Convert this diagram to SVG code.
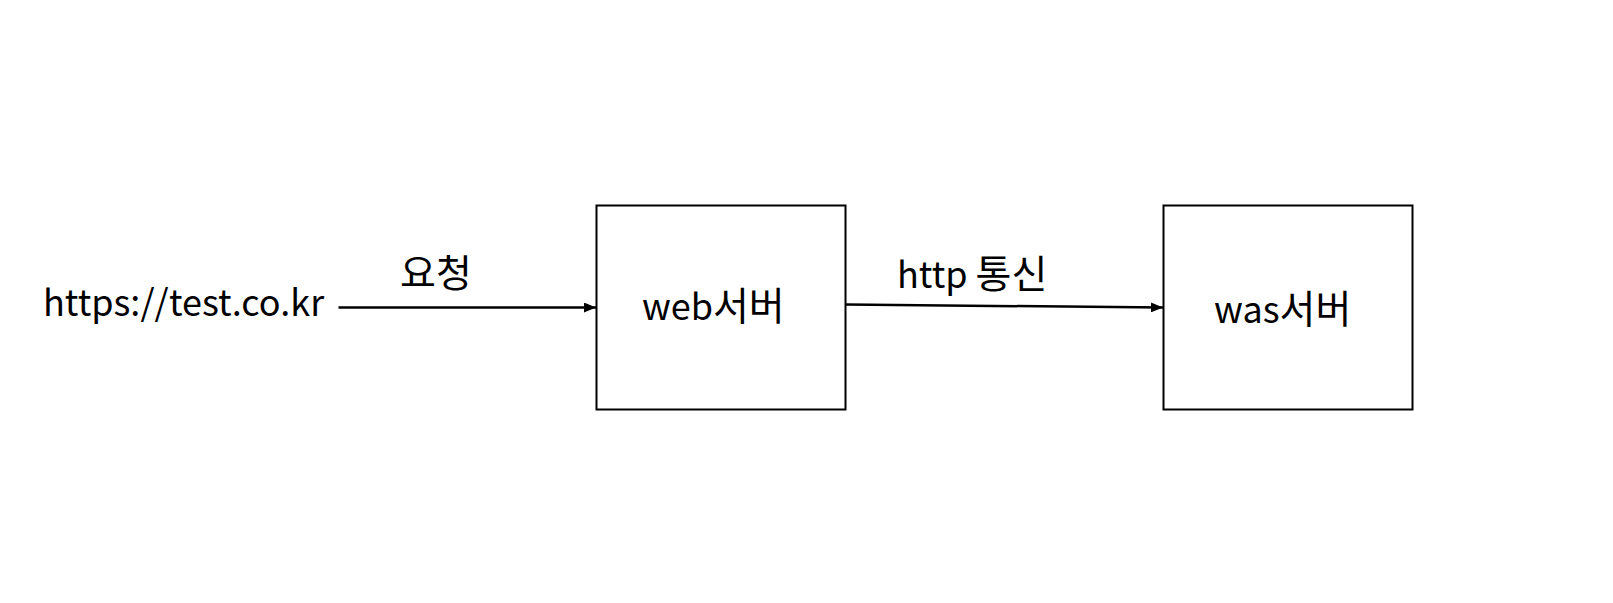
<svg xmlns="http://www.w3.org/2000/svg" width="1613" height="603" viewBox="0 0 1613 603">
<defs>
<style>
.t{font-family:"Noto Sans CJK KR","Noto Sans",sans-serif;font-size:36px;fill:#000}
.k{font-size:39px}
.box{fill:#fff;stroke:#000;stroke-width:2}
.ln{stroke:#000;stroke-width:2.5;fill:none}
</style>
<marker id="ah" markerWidth="12" markerHeight="10" refX="12" refY="5" orient="auto" markerUnits="userSpaceOnUse">
<path d="M0,0 L12,5 L0,10 z" fill="#000"/>
</marker>
</defs>
<rect width="1613" height="603" fill="#fff"/>
<g id="client"><text class="t" x="43" y="316">https://test.co.kr</text></g>
<g id="web"><rect class="box" x="596.5" y="205.5" width="249" height="204"/><text class="t" x="642" y="320">web<tspan class="k">서버</tspan></text></g>
<g id="was"><rect class="box" x="1163.5" y="205.5" width="249" height="204"/><text class="t" x="1214" y="323">was<tspan class="k">서버</tspan></text></g>
<g id="connectors">
<line class="ln" x1="338.5" y1="307.5" x2="596" y2="307.5" marker-end="url(#ah)"/>
<text class="t" x="400" y="287"><tspan class="k">요청</tspan></text>
<line class="ln" x1="846" y1="304.5" x2="1163" y2="307.5" marker-end="url(#ah)"/>
<text class="t" x="897" y="288">http <tspan class="k">통신</tspan></text>
</g>
</svg>
